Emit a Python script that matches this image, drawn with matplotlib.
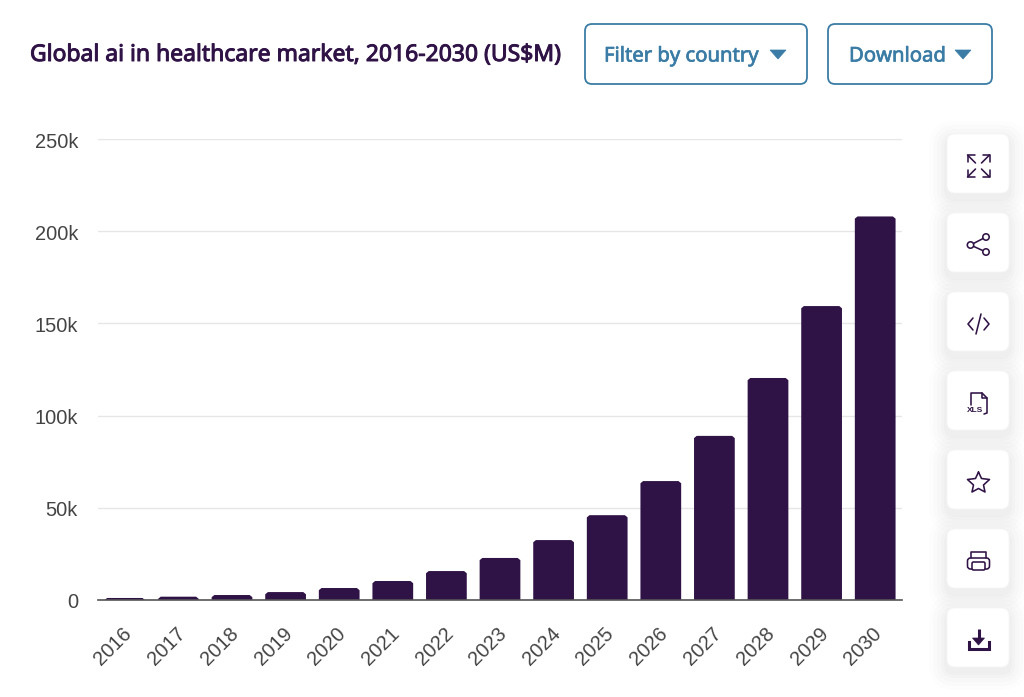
import matplotlib
matplotlib.use("Agg")
import matplotlib.pyplot as plt
import matplotlib.patheffects as pe
from matplotlib.patches import FancyBboxPatch, Polygon, Circle
from matplotlib.ticker import FuncFormatter
from matplotlib.transforms import ScaledTranslation

years = [2016, 2017, 2018, 2019, 2020, 2021, 2022, 2023, 2024, 2025, 2026, 2027, 2028, 2029, 2030]
market = [1.1, 1.8, 2.7, 4.3, 6.5, 10.3, 15.7, 22.8, 32.5, 46, 64.5, 89, 120.4, 159.4, 208]
y_ticks = [0, 50, 100, 150, 200, 250]
title = "Global ai in healthcare market, 2016-2030 (US$M)"

PURPLE = "#301346"
BLUE = "#3a7ca5"
W, H = 1024, 697

fig = plt.figure(figsize=(W / 100, H / 100), dpi=100)

# chart area
ax = fig.add_axes([98 / W, 1 - 600 / H, 804 / W, 461 / H])
positions = list(range(len(years)))
bars = ax.bar(positions, market, width=0.76, color=PURPLE, zorder=3)
for b in bars:
    # slightly rounded tops
    x, w, h = b.get_x(), b.get_width(), b.get_height()
    b.set_visible(False)
    r = min(0.05, h / 2)
    ax.fill([x, x, x + r, x + w - r, x + w, x + w],
            [0, h - 1.2 * min(r / 0.05, 1), h, h, h - 1.2 * min(r / 0.05, 1), 0],
            color=PURPLE, lw=0, zorder=3)
ax.set_xlim(-0.5, 14.5)
ax.set_ylim(0, 250)
ax.set_xticks(positions)
ax.set_xticklabels(years, rotation=45, ha="right", rotation_mode="anchor")
ax.set_yticks(y_ticks)
ax.yaxis.set_major_formatter(FuncFormatter(lambda v, p: "0" if v == 0 else f"{int(v)}k"))
ax.tick_params(axis="both", length=0, labelsize=14.4, labelcolor="#444444",
               labelfontfamily="Liberation Sans")
ax.tick_params(axis="x", pad=17)
ax.tick_params(axis="y", pad=14.4)
# nudge labels to sit where the original has them
x_shift = ScaledTranslation(-3 / 100, 0, fig.dpi_scale_trans)
for lab in ax.get_xticklabels():
    lab.set_transform(lab.get_transform() + x_shift)
y_shift = ScaledTranslation(0, -1 / 100, fig.dpi_scale_trans)
for lab in ax.get_yticklabels():
    lab.set_transform(lab.get_transform() + y_shift)
ax.grid(axis="y", color="#e6e6e6", lw=1, zorder=0)
for s in ["top", "left", "right"]:
    ax.spines[s].set_visible(False)
ax.spines["bottom"].set_color("#555555")
ax.spines["bottom"].set_linewidth(1.2)
ax.spines["bottom"].set_zorder(5)

# page furniture in pixel coordinates
ui = fig.add_axes([0, 0, 1, 1], zorder=-1)
ui.set_xlim(0, W)
ui.set_ylim(H, 0)
ui.axis("off")
top = fig.add_axes([0, 0, 1, 1], zorder=5)
top.set_xlim(0, W)
top.set_ylim(H, 0)
top.axis("off")
top.patch.set_alpha(0)

# no semibold cut available, thicken the regular one
head = top.text(30, 55, title, fontsize=16.5, color=PURPLE, family="Noto Sans",
                va="center", ha="left")
head.set_path_effects([pe.withStroke(linewidth=0.7, foreground=PURPLE)])


def button(x0, x1, label, tx, ax_):
    top.add_patch(FancyBboxPatch((x0, 24), x1 - x0, 60, boxstyle="round,pad=0,rounding_size=7",
                                 fc="white", ec=BLUE, lw=1.3))
    t = top.text(tx, 56.5, label, fontsize=14.6, color=BLUE, family="Noto Sans",
                 va="center", ha="left")
    t.set_path_effects([pe.withStroke(linewidth=0.5, foreground=BLUE)])
    top.add_patch(Polygon([(ax_ - 8, 50), (ax_ + 8, 50), (ax_, 59)], fc=BLUE, ec=BLUE, lw=0.5))


button(585, 807, "Filter by country", 604, 778)
button(828, 992, "Download", 849, 963)

# side cards with soft shadows
card_tops = [134, 213, 292, 371, 450, 529, 608]
for ct in card_tops:
    for grow, a in [(18, 0.007), (14, 0.010), (10, 0.012), (6, 0.015), (3, 0.017)]:
        ui.add_patch(FancyBboxPatch((947 - grow, ct + 5 - grow), 62 + 2 * grow, 59 + 2 * grow,
                                    boxstyle=f"round,pad=0,rounding_size={8 + grow}",
                                    fc="black", ec="none", alpha=a))
    ui.add_patch(FancyBboxPatch((947, ct), 62, 59, boxstyle="round,pad=0,rounding_size=8",
                                fc="white", ec="#f6f6f6", lw=0.6))

lw = 1.15
kw = dict(color=PURPLE, lw=lw, solid_capstyle="round", solid_joinstyle="round")

# expand
cx, cy = 978.5, 166
for sx in (-1, 1):
    for sy in (-1, 1):
        ox, oy = cx + sx * 11, cy + sy * 11
        top.plot([ox, cx + sx * 3], [oy, cy + sy * 3], **kw)
        top.plot([ox - sx * 7, ox, ox], [oy, oy, oy - sy * 7], **kw)

# share
pts = [(970.5, 245), (986, 237), (986, 252)]
top.plot([pts[1][0], pts[0][0], pts[2][0]], [pts[1][1], pts[0][1], pts[2][1]], **kw)
for p in pts:
    top.add_patch(Circle(p, 3.2, fc="white", ec=PURPLE, lw=lw, zorder=4))

# code
top.plot([973, 968, 973], [318, 324, 330], **kw)
top.plot([984, 989, 984], [318, 324, 330], **kw)
top.plot([976, 981], [334, 314], **kw)

# xls file
top.plot([971, 971, 982, 987, 987, 984], [405, 393, 393, 398, 413, 414], **kw)
top.plot([982, 982, 987], [393, 398, 398], **kw)
top.text(975, 411, "XLS", fontsize=6, weight="bold", color=PURPLE, family="Liberation Sans",
         ha="center", va="center")

# star
star_x = [978.5, 981.5, 989.5, 983.5, 985, 978.5, 972, 973.5, 967.5, 975.5, 978.5]
star_y = [472, 478.5, 479.5, 485, 492, 488.5, 492, 485, 479.5, 478.5, 472]
top.plot(star_x, star_y, **kw)

# printer
top.plot([971, 971, 986, 986], [558, 551.5, 551.5, 558], **kw)
top.add_patch(FancyBboxPatch((967.5, 558), 22, 11, boxstyle="round,pad=0,rounding_size=3",
                             fc="white", ec=PURPLE, lw=lw))
top.add_patch(FancyBboxPatch((972, 562), 13, 8, boxstyle="round,pad=0,rounding_size=1.5",
                             fc="white", ec=PURPLE, lw=lw))

# download
top.plot([978.5, 978.5], [629, 642], color=PURPLE, lw=2.2, solid_capstyle="butt")
top.add_patch(Polygon([(972.5, 638), (984.5, 638), (978.5, 645)], fc=PURPLE, ec=PURPLE, lw=0.5))
top.plot([968.5, 968.5, 988.5, 988.5], [642, 648.5, 648.5, 642], color=PURPLE, lw=2.2,
         solid_joinstyle="miter")

fig.savefig("out.png", dpi=100, facecolor="white")
